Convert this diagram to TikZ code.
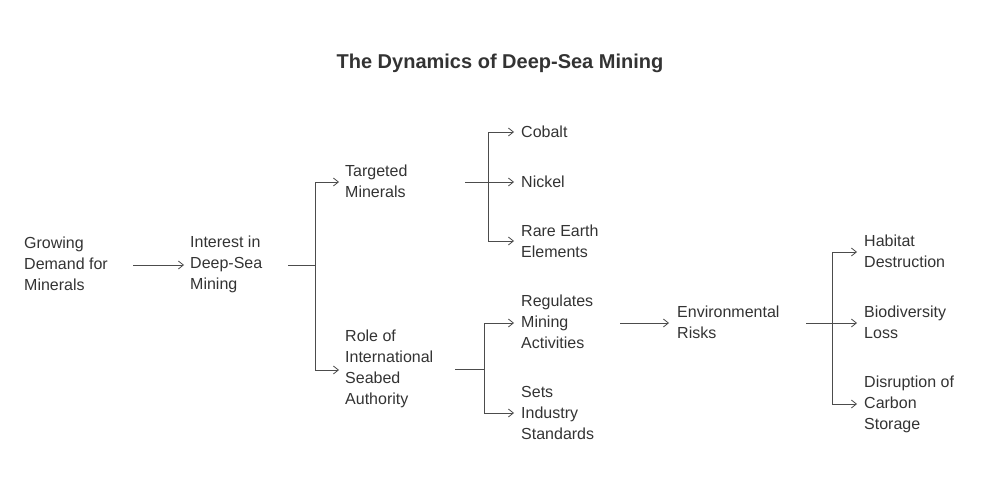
\documentclass[tikz,border=0pt]{standalone}
\usepackage{fontspec}
\setmainfont{Liberation Sans}
\usetikzlibrary{arrows.meta}
\begin{document}
\begin{tikzpicture}[x=1pt,y=-1pt,
  lbl/.style={anchor=west,align=left,inner sep=0pt,font=\fontsize{16}{21}\selectfont,text=black!80},
  con/.style={draw=black!70,line width=0.8pt},
  arr/.style={con,-{Straight Barb[length=5pt,width=8pt]}}]
\useasboundingbox (0,0) rectangle (1000,500);
\node[font=\bfseries\fontsize{20}{24}\selectfont,text=black!80] (title) at (500,63) {The Dynamics of Deep-Sea Mining};
\node[lbl] (grow) at (24,264) {Growing\\Demand for\\Minerals};
\node[lbl] (int) at (190,264) {Interest in\\Deep-Sea\\Mining};
\node[lbl] (tm) at (345,181.5) {Targeted\\Minerals};
\node[lbl] (isa) at (345,368.5) {Role of\\International\\Seabed\\Authority};
\node[lbl] (co) at (521,132) {Cobalt};
\node[lbl] (ni) at (521,182) {Nickel};
\node[lbl] (re) at (521,241.5) {Rare Earth\\Elements};
\node[lbl] (reg) at (521,322) {Regulates\\Mining\\Activities};
\node[lbl] (sets) at (521,413) {Sets\\Industry\\Standards};
\node[lbl] (env) at (677,322.5) {Environmental\\Risks};
\node[lbl] (hab) at (864,251.5) {Habitat\\Destruction};
\node[lbl] (bio) at (864,322.5) {Biodiversity\\Loss};
\node[lbl] (dis) at (864,404) {Disruption of\\Carbon\\Storage};
\coordinate (j1) at (315,265);
\coordinate (j2) at (488,182);
\coordinate (j3) at (484,369);
\coordinate (j4) at (832,323);
\draw[arr] (133,265) -- ([xshift=-6pt]int.west |- 0,265);
\draw[con] (288,265) -- (j1);
\draw[con] (315,182) -- (315,370);
\draw[arr] (315,182) -- ([xshift=-6pt]tm.west |- 0,182);
\draw[arr] (315,370) -- ([xshift=-6pt]isa.west |- 0,370);
\draw[con] (465,182) -- (j2);
\draw[con] (488,132) -- (488,241);
\draw[arr] (488,132) -- (514,132);
\draw[arr] (488,182) -- (514,182);
\draw[arr] (488,241) -- (514,241);
\draw[con] (455,369) -- (j3);
\draw[con] (484,323) -- (484,413);
\draw[arr] (484,323) -- (514,323);
\draw[arr] (484,413) -- (514,413);
\draw[arr] (620,323) -- (669,323);
\draw[con] (806,323) -- (j4);
\draw[con] (832,252) -- (832,404);
\draw[arr] (832,252) -- (857,252);
\draw[arr] (832,323) -- (857,323);
\draw[arr] (832,404) -- (857,404);
\end{tikzpicture}
\end{document}
